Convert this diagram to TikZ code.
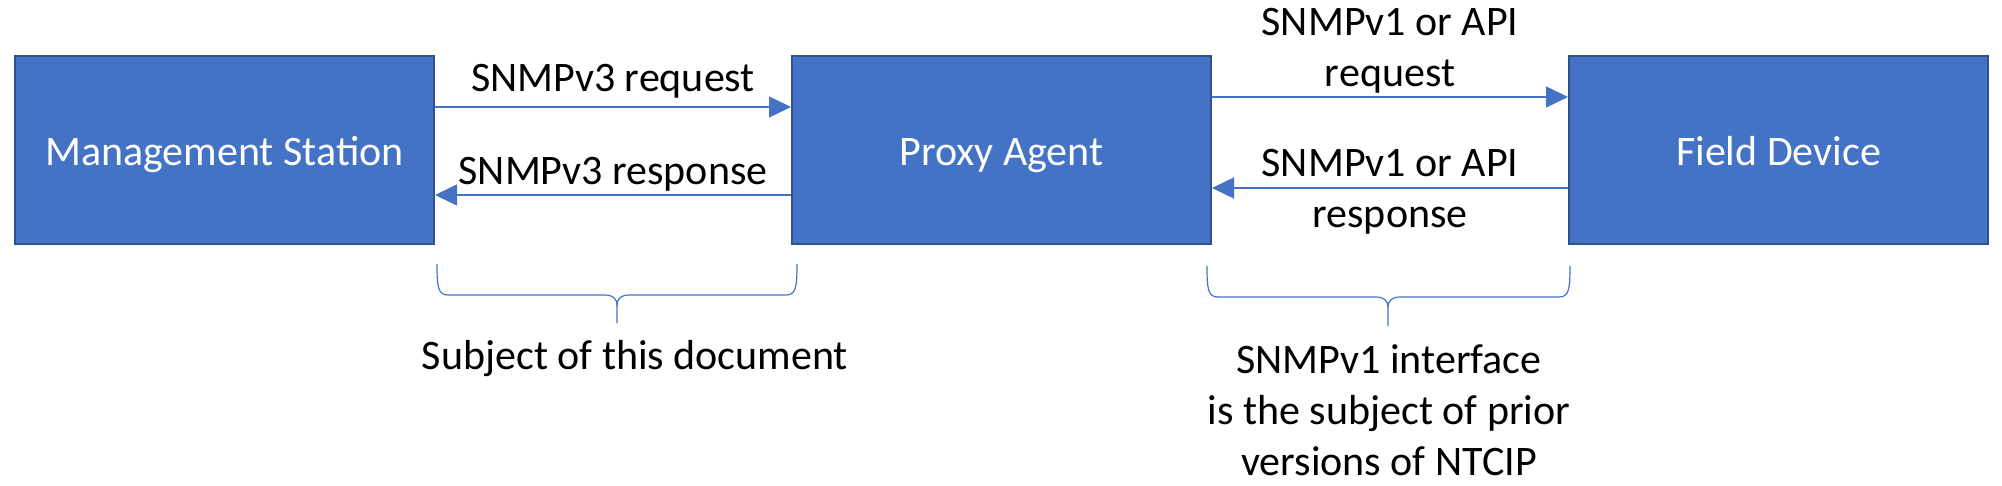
\documentclass[tikz,border=0pt]{standalone}
\usepackage{fontspec}
\setmainfont{Carlito}
\usetikzlibrary{positioning,arrows.meta}
\definecolor{officeblue}{HTML}{4472C4}
\definecolor{officeedge}{HTML}{2F528F}

\begin{document}
\begin{tikzpicture}[x=0.5pt, y=-0.5pt, node distance=178pt,
  every node/.style={align=center, font=\fontsize{21}{25.5}\selectfont},
  box/.style={draw=officeedge, fill=officeblue, line width=1pt, minimum width=209.5pt, minimum height=94pt, text=white, text height=18pt, text depth=2pt},
  link/.style={draw=officeblue, line width=0.75pt, -{Triangle[length=11pt,width=10.5pt]}},
  brace/.style={draw=officeblue, line width=0.6pt}]

\useasboundingbox (0,0) rectangle (2002,486);

% Nodes (horizontal layout)
\node (station) [box] at (224.5,150) {Management Station};
\node (proxy) [box, right=of station] {Proxy Agent};
\node (device) [box, right=of proxy] {Field Device};

% Arrows
\draw[link] ([yshift=21.5pt]station.east) -- ([yshift=21.5pt]proxy.west) node[midway, yshift=13pt] {SNMPv3 request};
\draw[link] ([yshift=-22.5pt]proxy.west) -- ([yshift=-22.5pt]station.east) node[midway, yshift=10.5pt] {SNMPv3 response};
\draw[link] ([yshift=26.5pt]proxy.east) -- ([yshift=26.5pt]device.west) node[midway, yshift=23pt] {SNMPv1 or API\\request};
\draw[link] ([yshift=-19pt]device.west) -- ([yshift=-19pt]proxy.east) node[midway, yshift=-2pt] {SNMPv1 or API\\response};

% Braces
\draw[brace] (437,264) .. controls (437,287) and (438,295) .. (448,295) -- (604,295) .. controls (613,295) and (617,298) .. (617,306) -- (617,323);
\draw[brace] (797,264) .. controls (797,287) and (796,295) .. (786,295) -- (630,295) .. controls (621,295) and (617,298) .. (617,306);
\draw[brace] (1207,266) .. controls (1207,289) and (1208,297) .. (1218,297) -- (1375,297) .. controls (1384,297) and (1388,300) .. (1388,308) -- (1388,326);
\draw[brace] (1570,266) .. controls (1570,289) and (1569,297) .. (1559,297) -- (1401,297) .. controls (1392,297) and (1388,300) .. (1388,308);

% Notes
\node (subject) at (635,359) {Subject of this document};
\node (prior) at (1389,410) {SNMPv1 interface\\is the subject of prior\\versions of NTCIP};

\end{tikzpicture}
\end{document}
